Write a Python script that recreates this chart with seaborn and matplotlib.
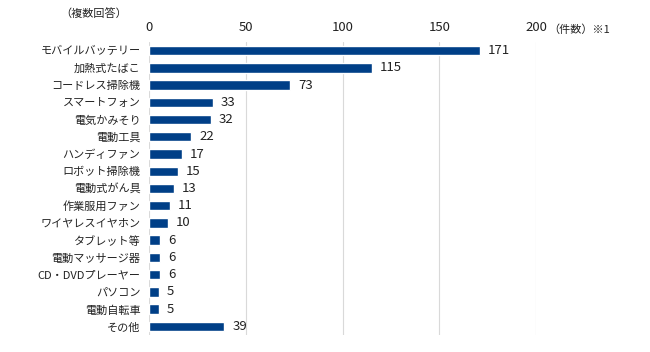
import matplotlib
matplotlib.use("Agg")
import matplotlib.pyplot as plt
import seaborn as sns
import pandas as pd

categories = ["モバイルバッテリー", "加熱式たばこ", "コードレス掃除機", "スマートフォン", "電気かみそり",
              "電動工具", "ハンディファン", "ロボット掃除機", "電動式がん具", "作業服用ファン",
              "ワイヤレスイヤホン", "タブレット等", "電動マッサージ器", "CD・DVDプレーヤー", "パソコン",
              "電動自転車", "その他"]
counts = [171, 115, 73, 33, 32, 22, 17, 15, 13, 11, 10, 6, 6, 6, 5, 5, 39]
x_ticks = [0, 50, 100, 150, 200]

sns.set_theme(style="white")
plt.rcParams['font.family'] = ['Noto Sans CJK JP', 'DejaVu Sans']

df = pd.DataFrame({"item": categories, "count": counts})

fig = plt.figure(figsize=(6.5, 3.52), dpi=100)
ax = fig.add_axes([0.229, 0.048, 0.596, 0.833])

sns.barplot(data=df, y="item", x="count", color="#003f87", saturation=1,
            width=0.55, ax=ax, orient="h")

ax.set_xlim(0, 200)
ax.set_xticks(x_ticks)
ax.xaxis.tick_top()
ax.tick_params(axis="x", length=0, labelsize=9.5, pad=6, colors="#222222")
ax.tick_params(axis="y", length=0, labelsize=8, pad=6, colors="#222222")
ax.grid(axis="x", color="#d9d9d9", linewidth=0.8)
ax.set_axisbelow(True)
for s in ax.spines.values():
    s.set_visible(False)
ax.set_xlabel("")
ax.set_ylabel("")

for i, v in enumerate(counts):
    ax.text(v + 4, i, str(v), va="center", ha="left", fontsize=9.5, color="#222222")

fig.text(0.092, 0.962, "（複数回答）", fontsize=8, va="center", ha="left", color="#222222")
fig.text(0.843, 0.917, "（件数）※1", fontsize=8, va="center", ha="left", color="#222222")

fig.savefig("out.png", dpi=100)
